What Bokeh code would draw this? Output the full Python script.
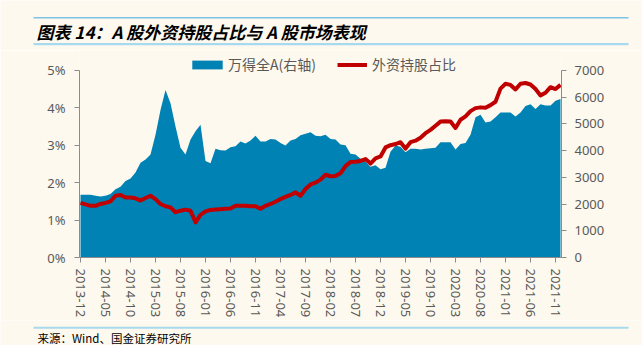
from bokeh.plotting import figure
from bokeh.models import (Range1d, LinearAxis, FixedTicker, Legend, LegendItem,
                          ColumnDataSource)
from bokeh.layouts import column
from bokeh.embed import file_html
from bokeh.resources import INLINE
from bokeh.core.properties import value

# ---------------- data ----------------
title_text = "图表 14：A 股外资持股占比与 A 股市场表现"
source_text = "来源：Wind、国金证券研究所"
area_name = "万得全A(右轴)"
line_name = "外资持股占比"

# monthly, 2013-12 ... 2021-12 (index 0..96)
wind_all_a = [2346, 2346, 2346, 2309, 2285, 2309, 2371, 2556, 2643, 2865,
              2952, 3174, 3544, 3668, 3853, 4594, 5520, 6261, 5767, 4903,
              4100, 3853, 4409, 4718, 4965, 3606, 3520, 4063, 4014, 4001,
              4125, 4162, 4335, 4260, 4372, 4557, 4335, 4335, 4434, 4409,
              4285, 4187, 4372, 4434, 4570, 4631, 4681, 4557, 4532, 4594,
              4434, 4409, 4224, 4199, 3878, 3853, 3693, 3582, 3396, 3446,
              3298, 3359, 3950, 4190, 4140, 3940, 4063, 4063, 4038, 4063,
              4088, 4100, 4310, 4310, 4310, 4038, 4248, 4285, 4594, 5249,
              5335, 5051, 5088, 5249, 5422, 5422, 5422, 5273, 5422, 5669,
              5730, 5557, 5730, 5681, 5681, 5866, 5928]

foreign_share = [1.46, 1.42, 1.38, 1.38, 1.43, 1.46, 1.50, 1.65, 1.67, 1.60,
                 1.60, 1.58, 1.52, 1.59, 1.65, 1.56, 1.43, 1.37, 1.34, 1.21,
                 1.25, 1.28, 1.25, 0.94, 1.14, 1.23, 1.27, 1.28, 1.29, 1.30,
                 1.31, 1.38, 1.38, 1.38, 1.37, 1.37, 1.30, 1.38, 1.43, 1.49,
                 1.56, 1.62, 1.67, 1.74, 1.65, 1.83, 1.95, 2.00, 2.08, 2.21,
                 2.17, 2.18, 2.25, 2.44, 2.55, 2.56, 2.58, 2.63, 2.51, 2.65,
                 2.70, 2.94, 3.00, 3.03, 3.08, 2.91, 3.08, 3.12, 3.20, 3.32,
                 3.41, 3.52, 3.63, 3.64, 3.63, 3.46, 3.68, 3.77, 3.91, 3.99,
                 4.01, 4.00, 4.07, 4.16, 4.51, 4.64, 4.61, 4.49, 4.64, 4.66,
                 4.62, 4.50, 4.33, 4.40, 4.55, 4.50, 4.61]

x_tick_labels = ["2013-12", "2014-05", "2014-10", "2015-03", "2015-08",
                 "2016-01", "2016-06", "2016-11", "2017-04", "2017-09",
                 "2018-02", "2018-07", "2018-12", "2019-05", "2019-10",
                 "2020-03", "2020-08", "2021-01", "2021-06", "2021-11"]
left_ticks = [0, 1, 2, 3, 4, 5]
right_ticks = [0, 1000, 2000, 3000, 4000, 5000, 6000, 7000]

# ---------------- style ----------------
BG = "#FDF9EE"
BLUE = "#0082B4"
RED = "#C00000"
AXIS = "#8C8C8C"
LABEL = "#595959"
SANS = "Noto Sans"
CJK = "Noto Sans CJK SC"

x_idx = list(range(len(wind_all_a)))
src = ColumnDataSource(dict(x=x_idx, idx=wind_all_a, pct=foreign_share))


def no_align(f):
    try:
        f.frame_align = False
    except Exception:
        pass


def blank(h):
    f = figure(width=642, height=h, x_range=Range1d(0, 642), y_range=Range1d(h, 0),
               output_backend="svg", toolbar_location=None, min_border=0,
               x_axis_type=None, y_axis_type=None, title=None)
    f.outline_line_color = None
    f.background_fill_color = BG
    f.border_fill_color = BG
    f.xgrid.visible = False
    f.ygrid.visible = False
    no_align(f)
    return f


# ---- title strip ----
top = blank(50)
top.segment(x0=[33, 33], y0=[17.3, 43.7], x1=[628, 628], y1=[17.3, 43.7],
            line_color=["#7EC4E4", "#A8D9EE"], line_width=[1.5, 2.2])
top.text(x=[36], y=[30.5], text=[title_text], text_font=value(CJK),
         text_font_style="bold italic", text_font_size="17px",
         text_baseline="middle", text_align="left", text_color="#000000")

# ---- main chart ----
# frame: x 79..561, y 50..259 (page); 0..5% spans the lower 189 px
H_MAIN, TOP_B, BOT_B = 270, 0, 61
frame_h = H_MAIN - TOP_B - BOT_B
px_per_unit = 189 / 5.0
y_top = frame_h / px_per_unit

p = figure(width=642, height=H_MAIN, x_range=Range1d(-0.2, 96.2),
           y_range=Range1d(0, y_top),
           output_backend="svg", toolbar_location=None, title=None,
           min_border_left=79, min_border_right=81, min_border_top=TOP_B,
           min_border_bottom=BOT_B)
no_align(p)
p.extra_y_ranges = {"idx": Range1d(0, 7000 * y_top / 5.0)}
p.background_fill_color = BG
p.border_fill_color = BG
p.outline_line_color = None
p.xgrid.visible = False
p.ygrid.visible = False

r_area = p.varea(x="x", y1=0, y2="idx", source=src, y_range_name="idx",
                 fill_color=BLUE)
r_line = p.line(x="x", y="pct", source=src, line_color=RED, line_width=4,
                line_join="round")

raxis = LinearAxis(y_range_name="idx")
p.add_layout(raxis, "right")

p.xaxis.ticker = FixedTicker(ticks=[5 * i for i in range(len(x_tick_labels))])
p.xaxis.major_label_overrides = {5 * i: lab for i, lab in enumerate(x_tick_labels)}
p.xaxis.major_label_orientation = "vertical"
p.xaxis.major_label_standoff = 6

p.yaxis[0].ticker = FixedTicker(ticks=left_ticks)
p.yaxis[0].major_label_overrides = {t: f"{t}%" for t in left_ticks}
p.yaxis[0].major_label_standoff = 9
p.yaxis[0].bounds = (0, 5)
raxis.ticker = FixedTicker(ticks=right_ticks)
raxis.major_label_standoff = 8
raxis.bounds = (0, 7000)

for ax in [p.xaxis[0], p.yaxis[0], raxis]:
    ax.axis_line_color = AXIS
    ax.axis_line_width = 1
    ax.major_tick_line_color = AXIS
    ax.major_tick_out = 5
    ax.major_tick_in = 0
    ax.minor_tick_line_color = None
    ax.major_label_text_font = SANS
    ax.major_label_text_font_size = "13px"
    ax.major_label_text_color = LABEL

GH = 11
leg_y = 259 - 76   # legend bottom, measured up from frame bottom
common = dict(orientation="horizontal", padding=0, margin=0,
              glyph_height=GH, label_height=GH,
              label_text_font=CJK, label_text_font_size="14px",
              label_text_color=LABEL, background_fill_alpha=0,
              border_line_alpha=0)
leg1 = Legend(items=[LegendItem(label=area_name, renderers=[r_area])],
              location=(109, leg_y), glyph_width=38, label_standoff=2,
              **common)
leg2 = Legend(items=[LegendItem(label=line_name, renderers=[r_line])],
              location=(258, leg_y), glyph_width=30, label_standoff=5,
              **common)
p.add_layout(leg1)
p.add_layout(leg2)

# ---- source strip ----
bot = blank(25)
bot.segment(x0=[33], y0=[7.3], x1=[628], y1=[7.3], line_color="#A8D9EE",
            line_width=2)
bot.text(x=[37], y=[17.8], text=[source_text], text_font=value(CJK),
         text_font_size="11.5px", text_baseline="middle", text_align="left",
         text_color="#000000")

layout = column(top, p, bot, spacing=0)
open("out.html", "w").write(file_html(layout, INLINE))
